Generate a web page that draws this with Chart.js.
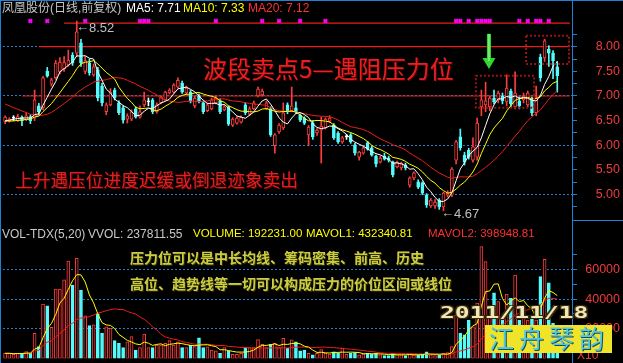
<!DOCTYPE html>
<html>
<head>
<meta charset="utf-8">
<script src="https://cdn.jsdelivr.net/npm/chart.js@4.4.1/dist/chart.umd.min.js"></script>
<style>
html, body { margin: 0; padding: 0; background: #000; width: 623px; height: 363px; overflow: hidden; }
#wrap { position: relative; width: 623px; height: 363px; }
canvas { position: absolute; left: 0; }
#priceChart { top: 0; }
#volChart { top: 222px; }
.t { position: absolute; white-space: nowrap; line-height: 1; font-family: "Liberation Sans", "Noto Sans CJK SC", sans-serif; font-size: 12px; }
.cjk { font-family: "Noto Sans CJK SC", sans-serif; }
.ln { position: absolute; background: #1f7fd0; }
</style>
</head>
<body>
<div id="wrap">
  <canvas id="priceChart" width="623" height="222"></canvas>
  <canvas id="volChart" width="623" height="141"></canvas>

  <div class="ln" style="left:0;top:0;width:623px;height:1px"></div>
  <div class="ln" style="left:0;top:0;width:1px;height:363px"></div>
  <div class="ln" style="left:572px;top:0;width:1px;height:363px"></div>
  <div class="ln" style="left:572px;top:220px;width:51px;height:1px"></div>

  <!-- titles -->
  <div class="t" style="left:2px;top:2px;color:#c8c8c8">凤凰股份(日线,前复权)</div>
  <div class="t" style="left:126px;top:2px;color:#ffffff">MA5: 7.71</div>
  <div class="t" style="left:183px;top:2px;color:#ffff00">MA10: 7.33</div>
  <div class="t" style="left:248px;top:2px;color:#ff3030">MA20: 7.12</div>

  <div class="t" style="left:2px;top:228px;color:#c8c8c8">VOL-TDX(5,20)</div>
  <div class="t" style="left:88px;top:228px;color:#c8c8c8">VVOL: 237811.55</div>
  <div class="t" style="left:193px;top:228px;font-size:11.5px;color:#ffff00">VOLUME: 192231.00</div>
  <div class="t" style="left:306px;top:228px;font-size:11.5px;color:#ffff00">MAVOL1: 432340.81</div>
  <div class="t" style="left:428px;top:228px;font-size:11.5px;color:#ff3030">MAVOL2: 398948.81</div>

  <!-- price notes -->
  <div class="t" style="left:76px;top:20px;font-size:13px;color:#c0c0c0">←</div>
  <div class="t" style="left:89px;top:21px;font-size:13px;color:#c0c0c0">8.52</div>
  <div class="t" style="left:441px;top:206px;font-size:13px;color:#c0c0c0">←</div>
  <div class="t" style="left:454px;top:207px;font-size:13px;color:#c0c0c0">4.67</div>

  <div class="t cjk" style="left:203px;top:56px;font-size:24px;color:#e82020;text-shadow:1px 1px 0 #5a0000">波段卖点5—遇阻压力位</div>
  <div class="t cjk" style="left:15px;top:171px;font-size:17.7px;color:#e02020;text-shadow:1px 1px 0 #5a0000">上升遇压位进度迟缓或倒退迹象卖出</div>

  <div class="t cjk" style="left:130px;top:250px;font-size:14px;font-weight:bold;color:#cccc44;text-shadow:1px 1px 0 #333300">压力位可以是中长均线、筹码密集、前高、历史</div>
  <div class="t cjk" style="left:130px;top:276px;font-size:14px;font-weight:bold;color:#cccc44;text-shadow:1px 1px 0 #333300">高位、趋势线等一切可以构成压力的价位区间或线位</div>

  <div class="t" style="left:577px;top:349px;color:#f03c3c">X10</div>

  <div class="t" style="left:440px;top:305px;font-family:'DejaVu Sans Mono',monospace;font-weight:bold;font-size:16px;color:#f0e6b8;transform:scaleX(1.54);transform-origin:0 0;text-shadow:1px 1px 0 #3a2a08,-1px -1px 0 #3a2a08,1px -1px 0 #3a2a08,-1px 1px 0 #3a2a08">2011/11/18</div>

  <div style="position:absolute;left:485px;top:325px;width:127px;height:28px;background:#f0e428"></div>
  <div class="t cjk" style="left:489px;top:325px;font-size:25px;letter-spacing:5px;color:#52c8e0;text-shadow:1px 1px 0 #1d4a5a">江舟琴韵</div>
</div>

<script>
// daily candles (oldest first)
const opens = [6.48, 6.50, 6.55, 6.50, 6.57, 6.52, 6.58, 6.55, 6.80, 6.76,
  7.50, 7.24, 7.37, 7.49, 7.55, 7.63, 7.83, 7.87, 8.08, 7.50,
  7.67, 7.43, 7.53, 7.20, 6.68, 6.82, 7.12, 6.86, 6.76, 6.53,
  6.53, 6.74, 6.57, 6.82, 6.88, 6.92, 6.68, 6.86, 6.92, 7.06,
  7.08, 7.18, 7.26, 7.06, 7.08, 6.80, 7.00, 6.86, 6.70, 6.74,
  6.86, 6.90, 6.72, 6.78, 6.41, 6.45, 6.47, 6.82, 6.63, 6.74,
  7.00, 7.02, 6.74, 6.74, 5.99, 6.27, 6.35, 6.82, 6.70, 6.76,
  6.61, 6.55, 6.21, 6.45, 6.25, 6.31, 6.35, 6.49, 6.41, 6.25,
  6.07, 6.17, 6.21, 6.01, 5.76, 5.84, 6.05, 5.95, 5.78, 5.66,
  5.78, 5.74, 5.66, 5.56, 5.54, 5.60, 5.19, 5.34, 5.26, 5.24,
  4.99, 4.77, 4.77, 4.89, 4.75, 4.99, 4.99, 5.70, 6.17, 5.80,
  5.90, 5.70, 5.76, 6.78, 6.82, 6.78, 6.96, 6.92, 7.00, 6.88,
  7.10, 6.78, 6.90, 6.92, 6.82, 6.92, 6.66, 7.79, 7.77, 7.95,
  7.87, 7.59];
const highs = [6.60, 6.56, 6.60, 6.63, 6.60, 6.66, 6.62, 7.12, 6.85, 7.40,
  7.58, 7.36, 7.72, 7.78, 7.80, 7.93, 7.88, 8.52, 8.15, 7.80,
  7.75, 7.65, 7.58, 7.26, 6.86, 7.15, 7.16, 6.90, 6.80, 6.64,
  6.72, 6.78, 6.80, 7.08, 6.96, 6.95, 6.86, 7.00, 7.10, 7.15,
  7.25, 7.37, 7.30, 7.20, 7.12, 7.00, 7.04, 6.90, 6.86, 6.96,
  7.00, 6.94, 6.82, 6.80, 6.56, 6.58, 6.60, 6.86, 6.78, 6.90,
  7.18, 7.14, 6.90, 6.78, 6.24, 6.44, 6.86, 6.86, 7.18, 6.88,
  6.64, 6.58, 6.40, 6.50, 6.34, 6.57, 6.56, 6.60, 6.44, 6.28,
  6.18, 6.22, 6.24, 6.04, 5.88, 5.98, 6.08, 5.98, 5.80, 5.78,
  5.84, 5.78, 5.68, 5.68, 5.66, 5.64, 5.36, 5.46, 5.30, 5.26,
  5.02, 4.92, 4.90, 4.92, 5.05, 5.08, 5.55, 6.10, 6.33, 5.86,
  5.94, 6.15, 6.55, 7.12, 7.28, 7.00, 7.12, 7.10, 7.06, 7.43,
  7.14, 7.49, 6.98, 7.06, 7.10, 6.98, 7.20, 7.85, 8.15, 8.02,
  7.92, 7.70];
const lows = [6.44, 6.47, 6.50, 6.48, 6.40, 6.50, 6.44, 6.50, 6.62, 6.72,
  7.38, 7.20, 7.34, 7.45, 7.50, 7.60, 7.62, 7.80, 7.60, 7.45,
  7.42, 7.40, 6.90, 6.80, 6.62, 6.80, 6.92, 6.62, 6.45, 6.45,
  6.50, 6.55, 6.55, 6.78, 6.80, 6.64, 6.65, 6.84, 6.90, 7.04,
  7.06, 7.16, 7.05, 7.02, 6.86, 6.76, 6.86, 6.64, 6.68, 6.72,
  6.84, 6.64, 6.70, 6.40, 6.38, 6.43, 6.45, 6.62, 6.60, 6.72,
  6.98, 7.00, 6.72, 6.18, 5.84, 6.24, 6.32, 6.64, 6.68, 6.64,
  6.48, 6.42, 5.99, 6.12, 6.20, 5.64, 6.33, 6.46, 6.12, 6.04,
  6.04, 6.12, 6.04, 5.80, 5.70, 5.82, 5.90, 5.78, 5.56, 5.64,
  5.70, 5.66, 5.36, 5.54, 5.50, 5.50, 5.15, 5.30, 5.12, 5.00,
  4.74, 4.74, 4.72, 4.70, 4.67, 4.95, 4.96, 5.62, 5.90, 5.60,
  5.72, 5.66, 5.70, 6.60, 6.68, 6.70, 6.84, 6.86, 6.84, 6.80,
  6.78, 6.74, 6.74, 6.86, 6.78, 6.60, 6.60, 7.30, 7.70, 7.60,
  7.35, 7.08];
const closes = [6.57, 6.53, 6.57, 6.58, 6.50, 6.60, 6.50, 6.92, 6.68, 7.37,
  7.40, 7.33, 7.67, 7.69, 7.68, 7.73, 7.67, 8.30, 7.67, 7.72,
  7.47, 7.59, 6.96, 6.86, 6.82, 7.08, 6.96, 6.66, 6.51, 6.60,
  6.68, 6.57, 6.68, 6.92, 6.90, 6.68, 6.82, 6.98, 7.08, 7.12,
  7.22, 7.32, 7.08, 7.16, 6.90, 6.96, 6.88, 6.68, 6.82, 6.92,
  6.96, 6.68, 6.78, 6.43, 6.53, 6.55, 6.57, 6.66, 6.74, 6.86,
  7.14, 7.10, 6.86, 6.21, 6.21, 6.41, 6.66, 6.68, 6.80, 6.68,
  6.51, 6.45, 6.37, 6.17, 6.31, 6.39, 6.53, 6.55, 6.15, 6.07,
  6.15, 6.19, 6.07, 5.84, 5.86, 5.95, 5.92, 5.80, 5.62, 5.74,
  5.72, 5.70, 5.40, 5.66, 5.64, 5.54, 5.34, 5.44, 5.15, 5.03,
  4.79, 4.89, 4.85, 4.75, 5.03, 5.03, 5.52, 6.07, 5.95, 5.66,
  5.76, 5.97, 6.45, 6.92, 6.90, 6.96, 6.88, 7.06, 6.90, 7.16,
  6.84, 7.06, 6.80, 7.00, 7.06, 6.66, 6.96, 7.37, 8.12, 7.87,
  7.71, 7.41];
// closes before the visible window, only used to seed the moving averages
const priorCloses = [7.30, 7.28, 7.25, 7.22, 7.20, 7.18, 7.15, 7.12, 7.08, 7.02,
  6.60, 6.52, 6.48, 6.45, 6.44, 6.46, 6.48, 6.50, 6.47];
// volume, units of 10 shares
const volumes = [3500, 3500, 2800, 3500, 3500, 4600, 3500, 17000, 8000, 36700,
  35400, 21000, 46800, 46800, 52900, 65600, 49500, 67500, 46100, 28800,
  22100, 22600, 30000, 17000, 21400, 20300, 12000, 10200, 7300, 11300,
  14700, 5700, 7300, 16500, 7300, 7300, 9100, 9100, 10200, 12000,
  9100, 11300, 7300, 7300, 9100, 8000, 14000, 7300, 7900, 5700,
  5200, 3500, 7300, 5200, 2800, 2800, 3500, 7300, 7300, 7300,
  12700, 9500, 7300, 9500, 10200, 7300, 13600, 6800, 12500, 11300,
  5200, 5700, 3500, 2500, 3500, 6000, 3500, 3000, 4500, 3500,
  7000, 3000, 3500, 4000, 2500, 3000, 3500, 3000, 3500, 2500,
  2000, 2000, 3500, 2500, 2500, 2000, 3000, 2500, 2500, 3000,
  4500, 2500, 2000, 2500, 3500, 4000, 8000, 29300, 17200, 16000,
  25900, 21400, 37400, 75300, 65200, 28200, 44300, 38300, 25900, 43400,
  40500, 56200, 25900, 29300, 25900, 29300, 25900, 55100, 66800, 51000,
  23700, 15000];

const priceTicks = [4.75, 5.00, 5.25, 5.50, 5.75, 6.00, 6.25, 6.50, 6.75, 7.00, 7.25, 7.50, 7.75, 8.00, 8.25];
const volTicks = [10000, 20000, 30000, 40000, 50000, 60000, 70000];
const signalDays = [6, 10, 19, 32, 33, 34, 50, 61, 65, 70, 76, 107, 108, 110, 112, 113, 114, 115, 122, 124, 126, 127, 129];
const signalLevel = 8.52;
const resistLevels = [8.48, 8.00, 7.00];
const resistFrom = [14, 8, 4];
// [from slot, to slot, top price, bottom price]
const boxes = [[111.7, 125.5, 7.41, 6.76], [123.6, 133.8, 8.22, 7.65]];
const arrowAt = [114.8, 8.26, 7.77, 7.55];

const emptySlots = 3;
const RED = '#ff3c3c', CYAN = '#54fcfc', WHITE = '#ffffff';

const slots = closes.map((_, i) => String(i + 1));
for (let k = 0; k < emptySlots; k++) slots.push('');

function movingAvg(values, n, seed) {
  const all = (seed || []).concat(values);
  const off = all.length - values.length;
  return values.map((_, i) => {
    const end = off + i + 1;
    const start = Math.max(0, end - n);
    let s = 0;
    for (let j = start; j < end; j++) s += all[j];
    return s / (end - start);
  });
}

const kind = closes.map((c, i) => Math.abs(c - opens[i]) < 0.025 ? 'flat' : (c > opens[i] ? 'up' : 'down'));
const lineColor = kind.map(k => k === 'flat' ? WHITE : (k === 'up' ? RED : CYAN));
const bodyFill = kind.map(k => k === 'flat' ? WHITE : (k === 'up' ? '#000000' : CYAN));
const volColor = kind.map(k => k === 'down' ? CYAN : RED);
const volFill = kind.map(k => k === 'down' ? CYAN : '#000000');

const isStep = (v, step) => Math.abs(v / step - Math.round(v / step)) < 1e-6;

Chart.defaults.font.family = '"Liberation Sans", Arial, sans-serif';
Chart.defaults.font.size = 12;

const overlay = {
  id: 'overlay',
  afterDatasetsDraw(chart) {
    const { ctx } = chart;
    const x = chart.scales.x, y = chart.scales.y;
    ctx.save();
    ctx.strokeStyle = '#9a1414';
    ctx.lineWidth = 2;
    ctx.setLineDash([2, 2]);
    boxes.forEach(b => {
      const x0 = x.getPixelForValue(b[0]), x1 = x.getPixelForValue(b[1]);
      const y0 = y.getPixelForValue(b[2]), y1 = y.getPixelForValue(b[3]);
      ctx.strokeRect(x0, y0, x1 - x0, y1 - y0);
    });
    ctx.setLineDash([]);
    // green arrow
    const cx = x.getPixelForValue(arrowAt[0]);
    const yTop = y.getPixelForValue(arrowAt[1]);
    const yHead = y.getPixelForValue(arrowAt[2]);
    const yTip = y.getPixelForValue(arrowAt[3]);
    ctx.fillStyle = '#30d830';
    ctx.fillRect(cx - 2, yTop, 4, yHead - yTop);
    ctx.beginPath();
    ctx.moveTo(cx - 6.5, yHead);
    ctx.lineTo(cx + 6.5, yHead);
    ctx.lineTo(cx, yTip);
    ctx.closePath();
    ctx.fill();
    ctx.fillStyle = '#a8ffa8';
    ctx.fillRect(cx - 0.5, yTop, 1, yHead - yTop + 3);
    ctx.restore();
  }
};

function rightAxis(ticksList, labelStep, gridStep, min, max, fmt) {
  return {
    position: 'right',
    min: min,
    max: max,
    afterBuildTicks: scale => { scale.ticks = ticksList.map(v => ({ value: v })); },
    afterFit: scale => {
      scale.width = 48;
      scale.paddingTop = 0;
      scale.paddingBottom = 0;
    },
    border: { display: false, dash: [2, 2] },
    grid: {
      color: c => isStep(c.tick.value, gridStep) ? '#1f7fd0' : 'rgba(0,0,0,0)',
      lineWidth: 1,
      tickColor: '#1f7fd0',
      tickLength: 5,
      drawTicks: true
    },
    ticks: {
      autoSkip: false,
      crossAlign: 'far',
      color: '#f03c3c',
      font: { size: 12.5 },
      callback: v => isStep(v, labelStep) ? fmt(v) : ''
    }
  };
}

window.onload = function () {
  const ma5 = movingAvg(closes, 5, priorCloses);
  const ma10 = movingAvg(closes, 10, priorCloses);
  const ma20 = movingAvg(closes, 20, priorCloses);

  const resistSets = resistLevels.map((lv, k) => ({
    type: 'line',
    data: slots.map((_, i) => i >= resistFrom[k] ? lv : null),
    borderColor: '#e81c1c',
    borderWidth: 1.2,
    pointRadius: 0,
    order: 5
  }));

  new Chart(document.getElementById('priceChart').getContext('2d'), {
    type: 'bar',
    data: {
      labels: slots,
      datasets: [
        { type: 'line', label: 'MA5', data: ma5, borderColor: WHITE, borderWidth: 1, pointRadius: 0, order: 0 },
        { type: 'line', label: 'MA10', data: ma10, borderColor: '#ffff00', borderWidth: 1, pointRadius: 0, order: 0 },
        { type: 'line', label: 'MA20', data: ma20, borderColor: '#ee1c1c', borderWidth: 1, pointRadius: 0, order: 0 },
        {
          type: 'line', label: 'signal',
          data: slots.map((_, i) => signalDays.includes(i) ? signalLevel : null),
          showLine: false, pointStyle: 'crossRot', pointRadius: 2.5, pointBorderWidth: 2,
          pointBorderColor: '#ff00ff', pointBackgroundColor: '#ff00ff', order: 0, clip: false
        },
        ...resistSets,
        {
          label: 'body', data: opens.map((o, i) => [o, closes[i]]),
          backgroundColor: bodyFill, borderColor: lineColor, borderWidth: 1, borderSkipped: false,
          barThickness: 3, grouped: false, order: 2
        },
        {
          label: 'wick', data: lows.map((l, i) => [l, highs[i]]),
          backgroundColor: lineColor, borderWidth: 0, barThickness: 1, grouped: false, order: 3
        }
      ]
    },
    options: {
      responsive: false,
      animation: false,
      events: [],
      devicePixelRatio: 1,
      layout: { autoPadding: false, padding: { left: 3, right: 3, top: 18, bottom: 1 } },
      plugins: { legend: { display: false }, tooltip: { enabled: false } },
      scales: {
        x: { display: false, offset: true },
        y: rightAxis(priceTicks, 0.5, 1, 4.4645, 8.582, v => v.toFixed(2))
      }
    },
    plugins: [overlay]
  });

  new Chart(document.getElementById('volChart').getContext('2d'), {
    type: 'bar',
    data: {
      labels: slots,
      datasets: [
        { type: 'line', label: 'MAVOL1', data: movingAvg(volumes, 5), borderColor: '#ffff00', borderWidth: 1, pointRadius: 0, order: 0 },
        { type: 'line', label: 'MAVOL2', data: movingAvg(volumes, 20), borderColor: '#ee1c1c', borderWidth: 1, pointRadius: 0, order: 0 },
        {
          label: 'VOL', data: volumes,
          backgroundColor: volFill, borderColor: volColor, borderWidth: 1, borderSkipped: false,
          barThickness: 3, grouped: false, order: 2
        }
      ]
    },
    options: {
      responsive: false,
      animation: false,
      events: [],
      devicePixelRatio: 1,
      layout: { autoPadding: false, padding: { left: 3, right: 3, top: 20, bottom: 4.5 } },
      plugins: { legend: { display: false }, tooltip: { enabled: false } },
      scales: {
        x: { display: false, offset: true },
        y: rightAxis(volTicks, 20000, 20000, 0, 78450, v => String(v))
      }
    }
  });
};
</script>
</body>
</html>
